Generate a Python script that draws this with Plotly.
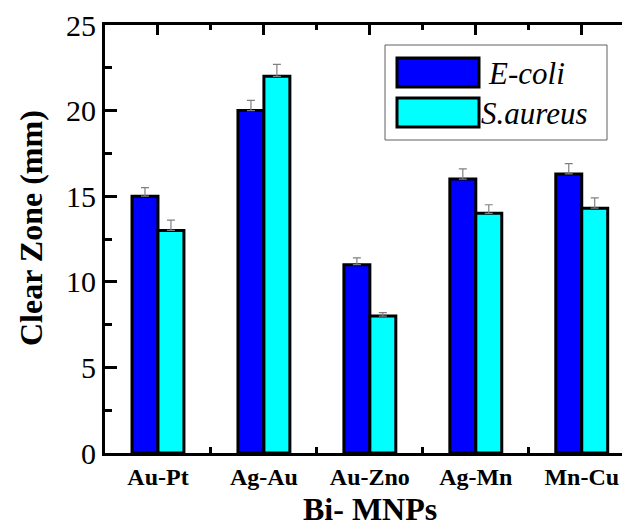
import plotly.graph_objects as go

categories = ["Au-Pt", "Ag-Au", "Au-Zno", "Ag-Mn", "Mn-Cu"]
ecoli = [15.0, 20.0, 11.0, 16.0, 16.3]
ecoli_err = [0.5, 0.6, 0.4, 0.6, 0.6]
saureus = [13.0, 22.0, 8.0, 14.0, 14.3]
saureus_err = [0.6, 0.7, 0.2, 0.5, 0.6]
series_names = ["E-coli", "S.aureus"]
y_ticks = [0, 5, 10, 15, 20, 25]

W, H = 622, 530
ML, MR, MT, MB = 105, 0, 25, 77
SERIF = "Liberation Serif, Times New Roman, serif"
BLUE = "#0000FF"
CYAN = "#00FFFF"

xpos = list(range(len(categories)))
bounds = [i + 0.5 for i in range(len(categories) - 1)]


def px(x):
    return (x - ML) / (W - ML - MR)


def py(y):
    return (H - MB - y) / (H - MT - MB)


def err(vals):
    return dict(type="data", symmetric=False, array=vals, arrayminus=[0] * len(vals),
                color="#808080", thickness=1.2, width=4, visible=True)


fig = go.Figure()
fig.add_trace(go.Bar(x=xpos, y=ecoli, name=series_names[0], marker=dict(color=BLUE, line=dict(color="black", width=3)),
                     error_y=err(ecoli_err), showlegend=False))
fig.add_trace(go.Bar(x=xpos, y=saureus, name=series_names[1], marker=dict(color=CYAN, line=dict(color="black", width=3)),
                     error_y=err(saureus_err), showlegend=False))
# invisible trace to hold the top axis
fig.add_trace(go.Scatter(x=[0], y=[0], xaxis="x2", mode="markers", marker=dict(opacity=0), showlegend=False, hoverinfo="skip"))

xr = [-0.5, 4.38]
fig.update_layout(
    width=W, height=H,
    margin=dict(l=ML, r=MR, t=MT, b=MB),
    paper_bgcolor="white", plot_bgcolor="white",
    barmode="group", bargap=0.51, bargroupgap=0.0,
    font=dict(family=SERIF, color="black"),
    xaxis=dict(range=xr, tickmode="array", tickvals=xpos, ticktext=categories,
               ticks="inside", ticklen=0, showline=True, linecolor="black", linewidth=3,
               showgrid=False, zeroline=False,
               tickfont=dict(family=SERIF, size=24, color="black", weight="bold"),
               minor=dict(tickmode="array", tickvals=bounds, ticks="inside", ticklen=6, tickwidth=3, tickcolor="black")),
    xaxis2=dict(range=xr, overlaying="x", side="top", tickmode="array", tickvals=xpos,
                ticks="inside", ticklen=10, tickwidth=3, tickcolor="black",
                showticklabels=False, showline=True, linecolor="black", linewidth=3,
                showgrid=False, zeroline=False,
                minor=dict(tickmode="array", tickvals=bounds, ticks="inside", ticklen=5, tickwidth=3, tickcolor="black")),
    yaxis=dict(range=[0, 25], tickmode="array", tickvals=y_ticks,
               ticks="inside", ticklen=12, tickwidth=3, tickcolor="black",
               showline=True, linecolor="black", linewidth=3, showgrid=False, zeroline=False,
               tickfont=dict(family=SERIF, size=30, color="black"),
               minor=dict(tickmode="array", tickvals=[2.5, 7.5, 12.5, 17.5, 22.5], ticks="inside",
                          ticklen=7, tickwidth=3, tickcolor="black")),
)

shapes = []
annotations = []
# legend box
shapes.append(dict(type="rect", xref="paper", yref="paper", x0=px(385), x1=px(607), y0=py(140), y1=py(45),
                   line=dict(color="#606060", width=1), fillcolor="white", layer="above"))
for i, (name, col) in enumerate(zip(series_names, [BLUE, CYAN])):
    top = 58 + i * 40
    shapes.append(dict(type="rect", xref="paper", yref="paper", x0=px(397), x1=px(479), y0=py(top + 29), y1=py(top),
                       line=dict(color="black", width=3), fillcolor=col, layer="above"))
    annotations.append(dict(text=name, xref="paper", yref="paper", x=px(486 if i == 0 else 479), y=py(top + 15),
                            xanchor="left", yanchor="middle", showarrow=False,
                            font=dict(family=SERIF, size=31, color="black", style="italic")))

annotations.append(dict(text="Clear Zone (mm)", xref="paper", yref="paper", x=px(31), y=py(228), textangle=-90,
                        xanchor="center", yanchor="middle", showarrow=False,
                        font=dict(family=SERIF, size=32, color="black", weight="bold")))
annotations.append(dict(text="Bi- MNPs", xref="paper", yref="paper", x=px(370), y=py(529),
                        xanchor="center", yanchor="bottom", showarrow=False,
                        font=dict(family=SERIF, size=32, color="black", weight="bold")))
fig.update_layout(shapes=shapes, annotations=annotations)

fig.write_html("out.html")
